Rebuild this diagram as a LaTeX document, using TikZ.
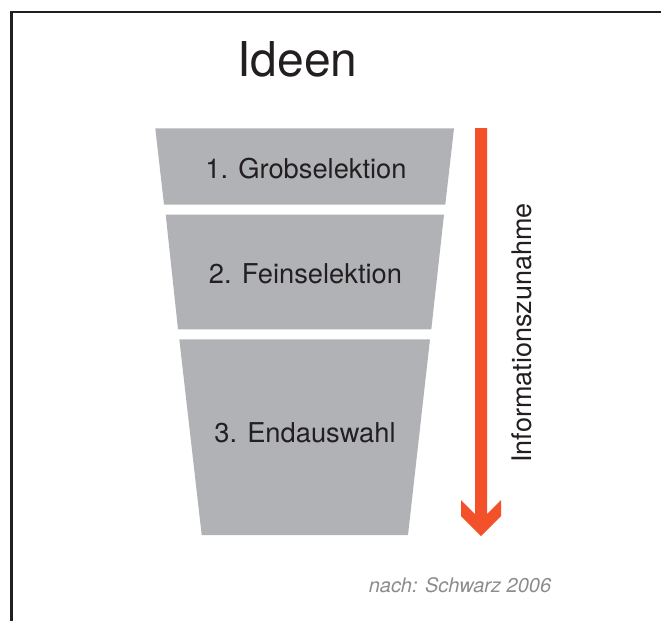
\documentclass[tikz,border=0pt]{standalone}
\usepackage{fontspec}
\setmainfont{TeX Gyre Heros}
\definecolor{funnelgrey}{HTML}{B1B2B5}
\definecolor{arroworange}{HTML}{F2512A}
\definecolor{textdark}{HTML}{231F20}
\definecolor{notegrey}{HTML}{8C8C8C}
\begin{document}
\begin{tikzpicture}[x=1pt,y=-1pt,
  stage/.style={fill=funnelgrey},
  stagelabel/.style={anchor=base,inner sep=0pt,text=textdark,font=\fontsize{27.3}{30}\selectfont},
  frameline/.style={draw=textdark,line width=2.4pt}]
\useasboundingbox (0,0) rectangle (661,621);
% frame
\draw[frameline] (11.5,621) -- (11.5,12) -- (661,12);
% title
\node[anchor=base,inner sep=0pt,text=textdark,font=\fontsize{48}{56}\selectfont] (title) at (297.5,76) {Ideen};
% funnel stages
\fill[stage] (155.3,128.3) -- (454,128.3) -- (445.3,204.7) -- (164,204.7) -- cycle;
\fill[stage] (165.7,214.7) -- (444,214.7) -- (431.3,329.3) -- (178,329.3) -- cycle;
\fill[stage] (179.3,339.3) -- (430,339.3) -- (408,535) -- (201.7,535) -- cycle;
\node[stagelabel] (s1) at (306,178) {1. Grobselektion};
\node[stagelabel] (s2) at (305.5,283) {2. Feinselektion};
\node[stagelabel] (s3) at (305,442) {3. Endauswahl};
% arrow
\fill[arroworange] (475,128) -- (475,514) -- (461,500) -- (461,516) -- (481,536)
  -- (501,516) -- (501,500) -- (487,514) -- (487,128) -- cycle;
\node[rotate=90,anchor=base,inner sep=0pt,text=textdark,font=\fontsize{27}{30}\selectfont] (info) at (531.5,333) {Informationszunahme};
% source note
\node[anchor=base,inner sep=0pt,text=notegrey,font=\fontsize{20}{24}\selectfont\itshape] (note) at (460,592) {nach: Schwarz 2006};
\end{tikzpicture}
\end{document}
